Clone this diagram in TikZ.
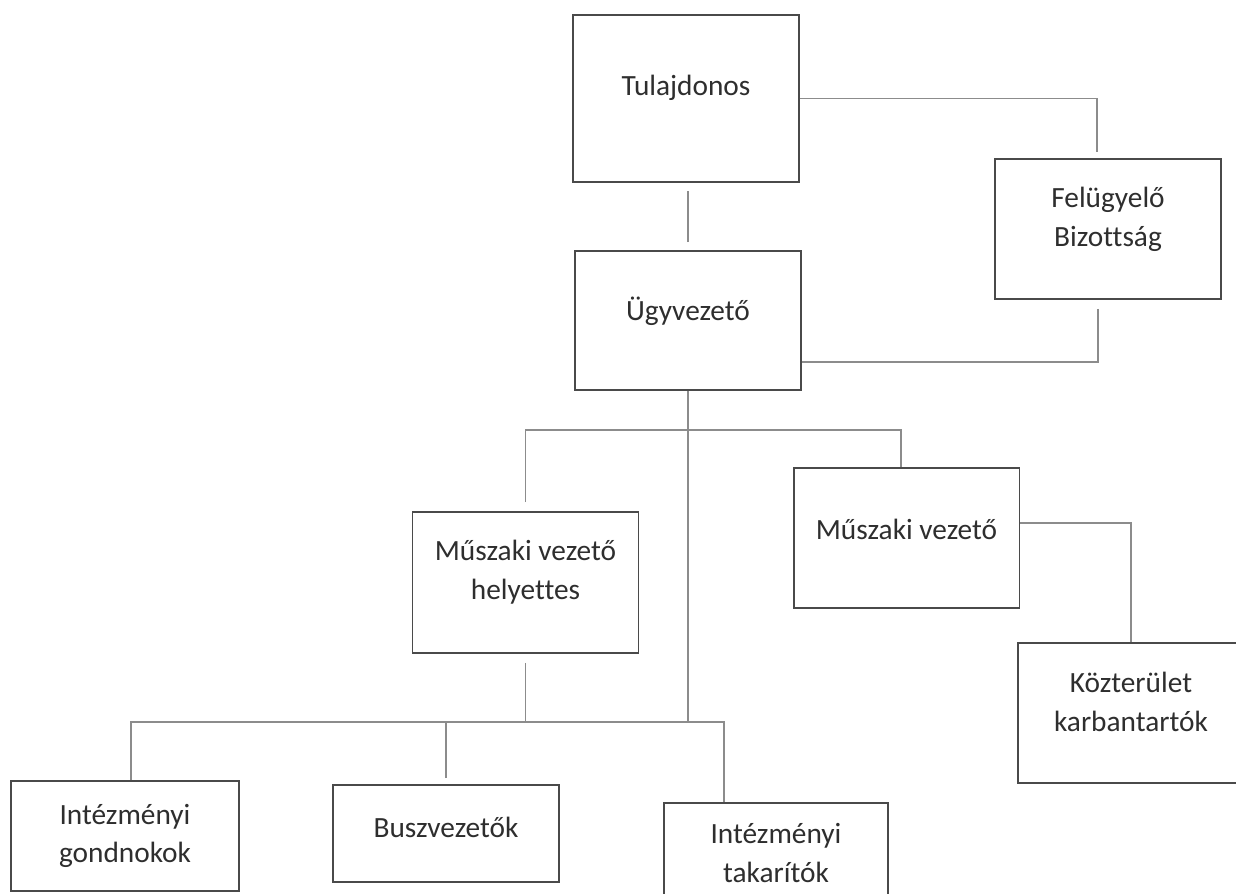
\documentclass[tikz,border=0pt]{standalone}
\usepackage{fontspec}
\setmainfont{Carlito}[Ligatures=NoCommon]
\usetikzlibrary{calc}

\definecolor{boxgray}{HTML}{4A4A4A}
\definecolor{linkgray}{HTML}{8C8C8C}
\definecolor{textgray}{HTML}{2E2E2E}

\tikzset{
  box/.style={draw=boxgray, line width=1.1pt, minimum width=4.52cm, inner sep=0pt,
    align=center, text=textgray, font=\fontsize{16.7}{22}\selectfont},
  textup/.style={execute at end node={\rule[-#1]{0pt}{0pt}}},
  link/.style={draw=linkgray, line width=0.6pt},
  gap/.style={shorten <=0.16cm, shorten >=0.16cm}
}

\begin{document}
\begin{tikzpicture}[x=0.02cm, y=-0.02cm]
             %\draw[lightgray] (0, 0) grid[step=100] (1236, 893);
             \useasboundingbox (0, 0) rectangle (1236, 893);
             \node[box, minimum height=3.34cm, textup=0.54cm] (tul) at (686, 98.5) {Tulajdonos};
             \node[box, minimum height=2.8cm, textup=0.48cm] (felu) at (1108, 229) {Felügyelő\\Bizottság};
             \node[box, minimum height=2.78cm, textup=0.46cm] (ugy) at (688, 320.5) {Ügyvezető};
             \node[box, minimum height=2.82cm, textup=0.5cm] (help) at (525.5, 582.5) {Műszaki vezető\\helyettes};
             \node[box, minimum height=2.8cm, textup=0.36cm] (musz) at (906.5, 538) {Műszaki vezető};
             \node[box, minimum height=2.8cm, textup=0.44cm] (kozt) at (1131, 713) {Közterület\\karbantartók};
             \node[box, minimum width=4.56cm, minimum height=2.2cm] (gond) at (125, 836) {Intézményi\\gondnokok};
             \node[box, minimum height=1.94cm, textup=0.26cm] (busz) at (446, 833.5) {Buszvezetők};
             \node[box, minimum width=4.48cm, minimum height=2.36cm, textup=0.36cm] (takar) at (776, 862) {Intézményi\\takarítók};
             \coordinate (bus1) at (688, 430);
             \coordinate (bus2) at (525, 722);
             \draw[link, shorten >=0.12cm] (tul.east) -| ([xshift=-0.22cm]felu.north);
             \draw[link, gap] (ugy.north) -- (ugy.north |- tul.south);
             \draw[link, shorten <=0.18cm] ([xshift=-0.2cm]felu.south) |- ([yshift=-0.83cm]ugy.east);
             \draw[link] (ugy.south) -- (ugy.south |- bus2);
             \draw[link, shorten <=0.18cm] (help.north) |- ([xshift=-0.11cm]musz.north |- bus1) -- ([xshift=-0.11cm]musz.north);
             \draw[link] ([yshift=0.3cm]musz.east) -| (kozt.north);
             \draw[link, shorten <=0.18cm] (help.south) -- (help.south |- bus2);
             \draw[link] ([xshift=0.12cm]gond.north) |- ([xshift=-1.04cm]takar.north |- bus2) -- ([xshift=-1.04cm]takar.north);
             \draw[link, shorten <=0.12cm] (busz.north) -- (busz.north |- bus2);
         \end{tikzpicture}
\end{document}
